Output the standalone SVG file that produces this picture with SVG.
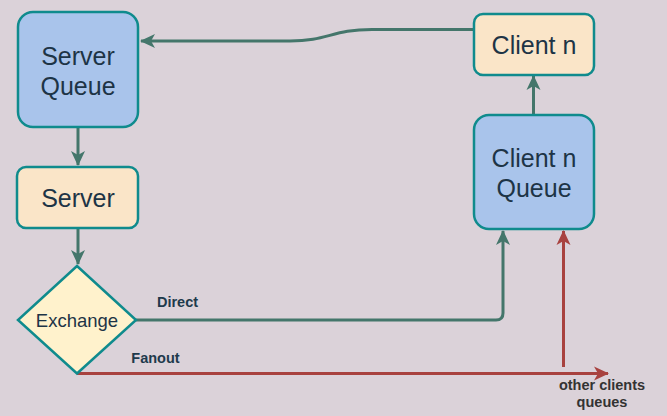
<svg xmlns="http://www.w3.org/2000/svg" width="667" height="416" viewBox="0 0 667 416">
<style>
.node{stroke:#0F8B8D;stroke-width:2.5}
.q{fill:#A9C4EB}
.b{fill:#FAE5C8}
.d{fill:#FFF2CC}
.t{font-family:"Liberation Sans",Arial,sans-serif;font-size:25px;fill:#1D3446;text-anchor:middle}
.lbl{font-family:"Liberation Sans",Arial,sans-serif;font-size:14.5px;font-weight:bold;text-anchor:middle}
.g{fill:none;stroke:#44766B;stroke-width:3}
.r{fill:none;stroke:#A8423F;stroke-width:3}
</style>
<defs>
<marker id="ag" markerUnits="userSpaceOnUse" markerWidth="16" markerHeight="16" viewBox="0 0 16 16" refX="14" refY="8" orient="auto">
<path d="M0,1 L15,8 L0,15 L4,8 Z" fill="#44766B"/>
</marker>
<marker id="ar" markerUnits="userSpaceOnUse" markerWidth="16" markerHeight="16" viewBox="0 0 16 16" refX="14" refY="8" orient="auto">
<path d="M0,1 L15,8 L0,15 L4,8 Z" fill="#A8423F"/>
</marker>
</defs>
<rect width="667" height="416" fill="#DBD2D9"/>
<g id="connectors">
<path class="g" d="M474,29.5 L372,29.5 C332,29.5 328,41 290,41 L141,41" marker-end="url(#ag)"/>
<path class="g" d="M78,128 L78,165" marker-end="url(#ag)"/>
<path class="g" d="M78,229 L78,264" marker-end="url(#ag)"/>
<path class="g" d="M533.5,115 L533.5,76" marker-end="url(#ag)"/>
<path class="g" d="M136,320 L496,320 Q503,320 503,313 L503,231" marker-end="url(#ag)"/>
<path class="r" d="M77,373.5 L608,373.5" marker-end="url(#ar)"/>
<path class="r" d="M563.5,367 L563.5,231" marker-end="url(#ar)"/>
<text class="lbl" x="177.5" y="306.5" fill="#1E3A4C">Direct</text>
<text class="lbl" x="155.5" y="362.5" fill="#1E3A4C">Fanout</text>
<text class="lbl" x="602" y="390" fill="#333333">other clients</text>
<text class="lbl" x="602" y="406.5" fill="#333333">queues</text>
</g>
<g id="server-queue">
<rect class="node q" x="18" y="12" width="120" height="115" rx="15"/>
<text class="t" x="78" y="65">Server</text>
<text class="t" x="78" y="95">Queue</text>
</g>
<g id="server">
<rect class="node b" x="17" y="167" width="121" height="61" rx="9"/>
<text class="t" x="78" y="206.5">Server</text>
</g>
<g id="exchange">
<path class="node d" d="M77,266 L136,320 L77,373.5 L18,320 Z"/>
<text class="t" x="77" y="326.5" style="font-size:18.5px">Exchange</text>
</g>
<g id="client-n">
<rect class="node b" x="474" y="14" width="120" height="61" rx="9"/>
<text class="t" x="534" y="53.5">Client n</text>
</g>
<g id="client-n-queue">
<rect class="node q" x="474" y="115" width="120" height="114" rx="15"/>
<text class="t" x="534" y="166.5">Client n</text>
<text class="t" x="534" y="196.5">Queue</text>
</g>
</svg>
